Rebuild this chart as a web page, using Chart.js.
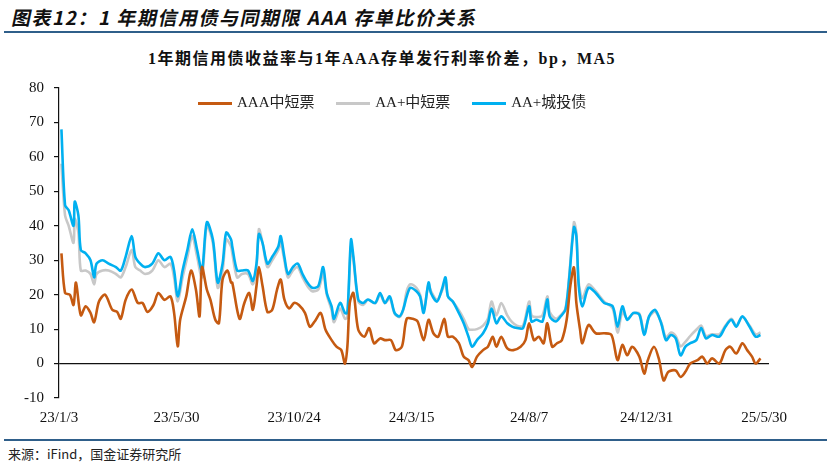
<!DOCTYPE html>
<html>
<head>
<meta charset="utf-8">
<script src="https://cdn.jsdelivr.net/npm/chart.js@4"></script>
<style>
body { margin: 0; width: 831px; height: 467px; background: #fff; position: relative; overflow: hidden; font-family: "Noto Sans CJK SC", sans-serif; }
#title { position: absolute; left: 10px; top: 3px; font-size: 19px; font-weight: bold; color: #111; letter-spacing: 1.5px; transform: skewX(-12deg); transform-origin: left bottom; }
#topLine { position: absolute; left: 4px; right: 4px; top: 31px; border-top: 2px solid #2F5F8A; }
#subTitle { position: absolute; left: 0; width: 764px; top: 45px; text-align: center; font-size: 16px; font-weight: bold; letter-spacing: 1.5px; font-family: "Liberation Serif", "Noto Sans CJK SC", serif; color: #111; }
#legend { position: absolute; top: 90px; left: 198px; font-family: "Liberation Serif", "Noto Sans CJK SC", serif; font-size: 15px; color: #222; }
#legend span { display: inline-block; margin-right: 18px; }
#legend i { display: inline-block; width: 34px; height: 3px; vertical-align: middle; margin-right: 5px; }
#wrap { position: absolute; left: 0; top: 69px; width: 831px; height: 361px; }
#bottomLine { position: absolute; left: 4px; right: 4px; top: 439px; border-top: 2px solid #2F5F8A; }
#source { position: absolute; left: 8px; top: 444px; font-size: 13px; color: #222; }
</style>
</head>
<body>
<div id="title">图表12：1 年期信用债与同期限 AAA 存单比价关系</div>
<div id="topLine"></div>
<div id="subTitle">1年期信用债收益率与1年AAA存单发行利率价差，bp，MA5</div>
<div id="wrap"><canvas id="chart"></canvas></div>
<div id="legend">
  <span><i style="background:#C55A11"></i>AAA中短票</span>
  <span><i style="background:#C8C8C8"></i>AA+中短票</span>
  <span><i style="background:#00B0F0"></i>AA+城投债</span>
</div>
<div id="bottomLine"></div>
<div id="source">来源：iFind，国金证券研究所</div>
<script>
const tickDays = [0, 97, 194, 291, 388, 485, 582];
const tickLabels = ['23/1/3', '23/5/30', '23/10/24', '24/3/15', '24/8/7', '24/12/31', '25/5/30'];

// trading-day index shared by AA+ series
const aaDays = [2,5,8,12,13,16,18,22,26,29,31,36,41,47,51,55,60,63,67,71,77,82,87,92,95,98,102,106,110,114,118,122,127,131,135,138,142,
  143,147,151,156,160,163,165,168,172,176,181,183,186,189,193,197,201,205,209,214,218,221,225,227,232,236,238,241,243,247,251,255,261,265,269,273,277,281,284,
  287,290,295,298,301,305,307,312,316,319,321,325,330,334,338,341,345,350,354,357,361,365,370,374,378,383,388,390,394,399,403,405,410,414,418,421,425,427,429,
  432,437,443,450,457,461,465,469,474,479,483,487,492,497,501,505,509,513,517,521,526,530,534,539,545,550,555,559,564,570,575,579];

const chengtou = [68,46,44.5,40,47,43,33,32,30,25,29,30,29,28,27,31,37,31,29,28,29,32,30,31,27,19.5,27,33,39,33,27,41,36,23.5,29,38,36,
  34,27,27,27,24,29,37.6,35,29,31,34,37,31,26,28,29,26,23.5,22,22.5,28,20.5,16.6,13,17.6,14.7,14.7,36,31,18.6,17.6,18.6,17.6,20.5,17.6,19.5,14.7,13.7,15.6,
  19.5,22,21,19.5,14.7,23.5,20.5,18,21.5,25,19.5,18,14.7,11.7,7.8,4.9,6.8,8.8,11.7,16,11.7,13.7,11.7,10.7,10.3,10.3,16.6,12.2,12.7,12.2,18.6,13.7,12.2,13.7,15.6,24.4,39.6,37,22.5,
  16.6,22,20.5,17.6,16.6,10.7,16.6,12.7,14.7,14.2,8.3,13.7,15.6,11.7,6.8,8.3,7.3,2.4,4.9,5.9,6.8,10.3,7.3,8.3,7.8,10.7,12.7,10.7,13.7,10.7,7.8,8.3];

const aaPlusMtn = [58,43,40,35,42,38,27,27,26,23,26,27,27,26,25,28,33,28,27,26,27,30,28,29,25,18,25,31,37,31,25,40,35,22,27,36,34,
  32,25,26,26,23,28,39,35,28,30,33,35,30,25,27,28,25,22.5,21,21.5,26,20,15.5,12,16,13,13.5,34,30,18,17,18.5,17.5,20,17.5,19,14.5,13.5,15.5,
  21,23,22,20,15.5,23,21,18.5,21,24,19.5,18,15.5,13,10,9.8,10,11,13,18,14,17.6,14,12,11,11,18,14,13.5,14,19.5,15,13,14,16,25,41,38,23.5,
  19,23,21,18,16,9,15,13,14.5,14.5,9,13.5,15,12,7.5,9,8,5,6.3,8,9.8,11,8,8.5,8.5,11,13,11,13.5,11,8.5,9];

const aaaDays = [2,5,9,12,14,18,22,26,29,33,38,44,48,51,55,60,65,69,73,78,82,87,92,95,98,100,105,109,113,116,118,122,125,129,132,135,139,142,
  143,149,153,157,160,163,165,168,172,176,180,183,186,190,194,198,203,207,211,216,220,225,229,233,236,238,240,243,247,252,256,260,265,269,274,278,283,
  287,292,296,301,305,309,313,318,321,325,330,334,338,341,345,350,354,358,361,365,370,375,381,385,388,392,396,400,403,407,411,415,419,422,425,427,430,
  432,437,443,450,456,461,465,469,473,479,483,486,491,495,499,503,509,513,517,521,527,531,535,539,545,550,554,559,564,568,572,575,579];

const aaaMtn = [32,20.5,20,17,23.5,14,16.6,14.7,12,18,20,15.6,15,13,18.5,21.5,17.6,17.6,15,17,20.5,18.5,19.5,14.7,5,12.7,19.5,27,21.5,13.7,28,21.5,18.5,12.7,11.7,24.4,27,23.5,
  23.5,13,17.6,20.5,15.6,22.5,28,22.5,15,15.6,21.5,24.4,18.6,16,17.6,17,14.7,10.7,12.2,14.7,9.8,6.8,4.9,3.9,0,4.9,17.6,20.5,9.8,7.8,10.3,5.9,7.3,6.8,6.8,3.9,4.9,
  13,13,12.2,6.8,12.7,8.8,7.8,13,7.8,7.8,5.9,2,1,-1,2,3.9,4.9,7.8,4.9,7.8,4.4,3.9,4.9,6.8,11.7,6.8,7.8,5.9,11.7,4.9,5.9,6.8,12.7,22.5,27.9,17.6,10,
  5.9,11.2,8.8,8.8,8.3,1,5.4,2.4,4.9,2,-2.9,1,4.9,1.5,-4.9,-2.4,-2,-3.9,-2.4,0,1,2,0,1.5,0,3.9,4.9,2.9,5.9,3.9,2,0,1.5];

function toPoints(days, vals) {
    return days.map((d, i) => ({ x: d, y: vals[i] }));
}

const serif = '"Liberation Serif", "Times New Roman", serif';

new Chart(document.getElementById('chart').getContext('2d'), {
    type: 'line',
    data: {
        datasets: [
            { label: 'AAA中短票', data: toPoints(aaaDays, aaaMtn), borderColor: '#C55A11', borderWidth: 2.6, pointRadius: 0, tension: 0.3, order: 1 },
            { label: 'AA+中短票', data: toPoints(aaDays, aaPlusMtn), borderColor: '#C8C8C8', borderWidth: 2.6, pointRadius: 0, tension: 0.3, order: 3 },
            { label: 'AA+城投债', data: toPoints(aaDays, chengtou), borderColor: '#00B0F0', borderWidth: 2.6, pointRadius: 0, tension: 0.3, order: 2 }
        ]
    },
    options: {
        responsive: true,
        maintainAspectRatio: false,
        animation: false,
        layout: { padding: { left: 14, right: 62, top: 8, bottom: 0 } },
        plugins: { legend: { display: false }, tooltip: { enabled: false } },
        scales: {
            x: {
                type: 'linear',
                min: 0,
                max: 586,
                afterBuildTicks: axis => { axis.ticks = tickDays.map(v => ({ value: v })); },
                ticks: {
                    autoSkip: false,
                    maxRotation: 0,
                    color: '#111',
                    font: { family: serif, size: 15 },
                    callback: v => tickLabels[tickDays.indexOf(v)]
                },
                grid: { display: false },
                border: { display: false }
            },
            y: {
                min: -10,
                max: 80,
                ticks: { stepSize: 10, color: '#111', font: { family: serif, size: 15 }, padding: 10 },
                grid: {
                    color: ctx => ctx.tick && ctx.tick.value === 0 ? '#111' : 'rgba(0,0,0,0)',
                    tickColor: '#111',
                    tickLength: 5,
                    lineWidth: 1.2
                },
                border: { display: true, color: '#111', width: 1.2 }
            }
        }
    }
});
</script>
</body>
</html>
